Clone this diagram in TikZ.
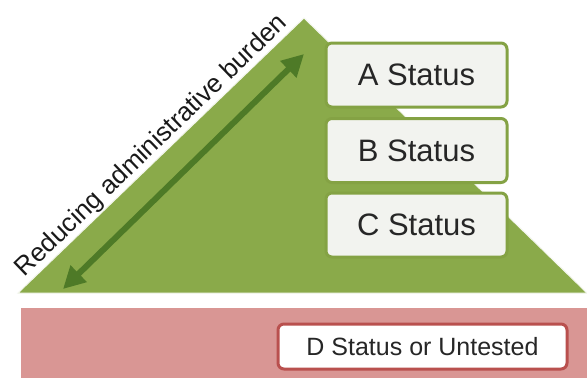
\documentclass[tikz,border=0pt]{standalone}
\usepackage{fontspec}
\setmainfont{Liberation Sans}
\usetikzlibrary{arrows.meta}
\definecolor{tri}{HTML}{8AAA4A}
\definecolor{arr}{HTML}{4E7A27}
\definecolor{boxline}{HTML}{84A244}
\definecolor{boxfill}{HTML}{F2F3EF}
\definecolor{pinkbg}{HTML}{D99694}
\definecolor{redline}{HTML}{B9504E}
\tikzset{
  statusbox/.style={draw=boxline, line width=3pt, fill=boxfill, rounded corners=6pt,
    minimum width=181pt, minimum height=64pt, inner sep=0pt,
    font=\fontsize{31}{31}\selectfont, text=black!85},
  dbox/.style={draw=redline, line width=3pt, fill=white, rounded corners=6pt,
    minimum width=289pt, minimum height=45pt, inner sep=0pt,
    font=\fontsize{25}{25}\selectfont, text=black!85},
  dblarrow/.style={draw=arr, line width=6pt, {Triangle[length=22pt,width=22pt]}-{Triangle[length=22pt,width=22pt]}}
}
\begin{document}
\begin{tikzpicture}[x=1pt,y=-1pt]
\useasboundingbox (0,0) rectangle (587,378);
\fill[white] (0,0) rectangle (587,378);
% pyramid
\fill[tri, draw=white!90!tri, line width=1pt] (18,293) -- (304,18) -- (587,293) -- cycle;
% lower band
\fill[pinkbg] (21,308) rectangle (587,378);
% status boxes
\node[statusbox] (A) at (416.5,75) {A Status};
\node[statusbox] (B) at (416.5,150.5) {B Status};
\node[statusbox] (C) at (416.5,225) {C Status};
\node[dbox] (D) at (422.5,346.5) {D Status or Untested};
% double arrow
\coordinate (lo) at (63,289);
\coordinate (hi) at (304,54);
\draw[dblarrow] (lo) -- (hi);
% label
\node[rotate=43.87, font=\fontsize{26}{26}\selectfont, text=black!90, inner sep=0pt] (lbl) at (152,146) {Reducing administrative burden};
\end{tikzpicture}
\end{document}
